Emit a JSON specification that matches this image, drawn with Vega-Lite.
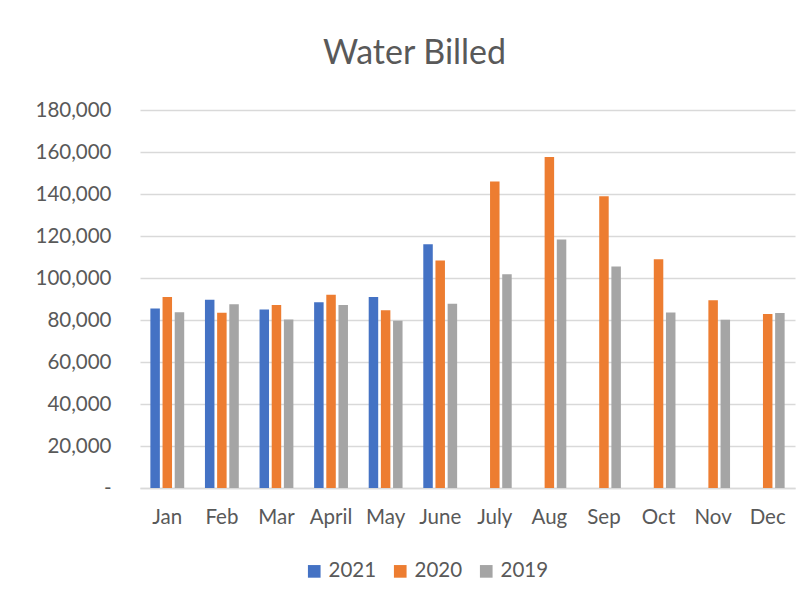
{
  "$schema": "https://vega.github.io/schema/vega-lite/v6.json",
  "width": 655,
  "height": 378,
  "autosize": {"type": "none"},
  "padding": {"left": 140, "top": 110, "right": 11, "bottom": 115},
  "background": "white",
  "title": {
    "text": "Water Billed",
    "font": "Lato",
    "fontSize": 34,
    "fontWeight": "normal",
    "color": "#595959",
    "anchor": "middle",
    "dx": -53,
    "offset": 29
  },
  "data": {
    "values": [
      {"month": "Jan", "year": "2021", "value": 85500},
      {"month": "Jan", "year": "2020", "value": 90900},
      {"month": "Jan", "year": "2019", "value": 83700},
      {"month": "Feb", "year": "2021", "value": 89600},
      {"month": "Feb", "year": "2020", "value": 83400},
      {"month": "Feb", "year": "2019", "value": 87500},
      {"month": "Mar", "year": "2021", "value": 85000},
      {"month": "Mar", "year": "2020", "value": 87100},
      {"month": "Mar", "year": "2019", "value": 80200},
      {"month": "April", "year": "2021", "value": 88500},
      {"month": "April", "year": "2020", "value": 92000},
      {"month": "April", "year": "2019", "value": 87100},
      {"month": "May", "year": "2021", "value": 90900},
      {"month": "May", "year": "2020", "value": 84700},
      {"month": "May", "year": "2019", "value": 79600},
      {"month": "June", "year": "2021", "value": 116100},
      {"month": "June", "year": "2020", "value": 108300},
      {"month": "June", "year": "2019", "value": 87700},
      {"month": "July", "year": "2020", "value": 145900},
      {"month": "July", "year": "2019", "value": 101800},
      {"month": "Aug", "year": "2020", "value": 157600},
      {"month": "Aug", "year": "2019", "value": 118300},
      {"month": "Sep", "year": "2020", "value": 138900},
      {"month": "Sep", "year": "2019", "value": 105500},
      {"month": "Oct", "year": "2020", "value": 108900},
      {"month": "Oct", "year": "2019", "value": 83600},
      {"month": "Nov", "year": "2020", "value": 89400},
      {"month": "Nov", "year": "2019", "value": 80100},
      {"month": "Dec", "year": "2020", "value": 82800},
      {"month": "Dec", "year": "2019", "value": 83300}
    ]
  },
  "mark": {"type": "bar"},
  "encoding": {
    "x": {
      "field": "month",
      "type": "nominal",
      "sort": ["Jan", "Feb", "Mar", "April", "May", "June", "July", "Aug", "Sep", "Oct", "Nov", "Dec"],
      "scale": {"paddingInner": 0.38, "paddingOuter": 0.19},
      "axis": {
        "title": null,
        "labelAngle": 0,
        "labelFont": "Lato",
        "labelFontSize": 20.5,
        "labelColor": "#595959",
        "labelPadding": 19,
        "ticks": false,
        "domainColor": "#d9d9d9",
        "domainWidth": 1.5,
        "grid": false
      }
    },
    "xOffset": {
      "field": "year",
      "type": "nominal",
      "sort": ["2021", "2020", "2019"],
      "scale": {"paddingInner": 0.22}
    },
    "y": {
      "field": "value",
      "type": "quantitative",
      "scale": {"domain": [0, 180000], "nice": false},
      "axis": {
        "title": null,
        "values": [0, 20000, 40000, 60000, 80000, 100000, 120000, 140000, 160000, 180000],
        "labelExpr": "datum.value == 0 ? '-' : format(datum.value, ',')",
        "labelFont": "Lato",
        "labelFontSize": 20.5,
        "labelColor": "#595959",
        "labelPadding": 29,
        "ticks": false,
        "domain": false,
        "gridColor": "#d9d9d9",
        "gridWidth": 1.5
      }
    },
    "color": {
      "field": "year",
      "type": "nominal",
      "sort": ["2021", "2020", "2019"],
      "scale": {"domain": ["2021", "2020", "2019"], "range": ["#4472C4", "#ED7D31", "#A5A5A5"]},
      "legend": {
        "title": null,
        "orient": "none",
        "direction": "horizontal",
        "legendX": 164,
        "legendY": 451,
        "symbolType": "square",
        "symbolSize": 160,
        "symbolStrokeWidth": 0,
        "labelFont": "Lato",
        "labelFontSize": 20.5,
        "labelColor": "#595959",
        "labelOffset": 4,
        "columnPadding": 13
      }
    }
  },
  "config": {
    "view": {"stroke": null}
  }
}
